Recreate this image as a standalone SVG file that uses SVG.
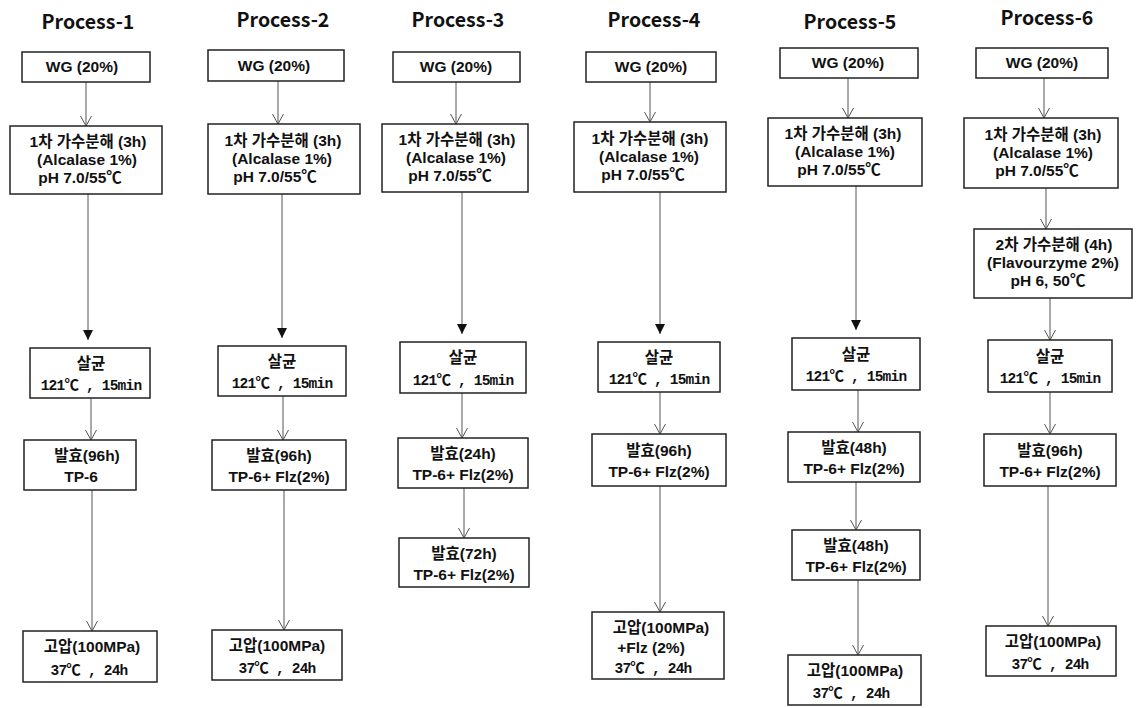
<svg xmlns="http://www.w3.org/2000/svg" width="1136" height="708" viewBox="0 0 1136 708">
  <style>
    .title { font-family: "Noto Sans CJK KR", "Noto Sans", sans-serif; font-weight: bold; font-size: 19.5px; fill: #111; text-anchor: middle; }
    .box { fill: #fff; stroke: #222; stroke-width: 1.5; }
    .t { font-family: "Liberation Sans", "Noto Sans CJK KR", sans-serif; font-weight: bold; font-size: 15.5px; fill: #111; text-anchor: middle; }
    .m { font-family: "Liberation Mono", "Noto Sans CJK KR", monospace; font-weight: bold; font-size: 14.5px; letter-spacing: -0.8px; fill: #111; text-anchor: middle; }
    .a { stroke: #555; stroke-width: 1; fill: none; marker-end: url(#open); }
    .f { stroke: #555; stroke-width: 1; fill: none; marker-end: url(#solid); }
  </style>
  <defs>
    <marker id="open" viewBox="-1 -7 12 14" markerWidth="12" markerHeight="14" refX="10" refY="0" orient="auto" markerUnits="userSpaceOnUse">
      <path d="M0,-5.5 L10,0 L0,5.5" fill="none" stroke="#555" stroke-width="1"/>
    </marker>
    <marker id="solid" viewBox="0 -6 11 12" markerWidth="11" markerHeight="12" refX="10" refY="0" orient="auto" markerUnits="userSpaceOnUse">
      <path d="M0,-5 L10,0 L0,5 Z" fill="#111"/>
    </marker>
  </defs>

  <!-- column titles -->
  <g id="titles">
    <text class="title" x="88" y="29">Process-1</text>
    <text class="title" x="283" y="27">Process-2</text>
    <text class="title" x="458" y="27">Process-3</text>
    <text class="title" x="654" y="27">Process-4</text>
    <text class="title" x="850" y="29">Process-5</text>
    <text class="title" x="1047" y="25">Process-6</text>
  </g>

  <!-- connectors -->
  <g id="connectors">
    <line class="a" x1="86" y1="82" x2="86" y2="126"/>
    <line class="f" x1="88" y1="194" x2="88" y2="340"/>
    <line class="a" x1="91" y1="398" x2="91" y2="440"/>
    <line class="a" x1="92" y1="490" x2="92" y2="631"/>

    <line class="a" x1="278" y1="81" x2="278" y2="124"/>
    <line class="f" x1="282" y1="194" x2="282" y2="338"/>
    <line class="a" x1="283" y1="396" x2="283" y2="440"/>
    <line class="a" x1="284" y1="490" x2="284" y2="630"/>

    <line class="a" x1="456" y1="82" x2="456" y2="124"/>
    <line class="f" x1="462" y1="192" x2="462" y2="334"/>
    <line class="a" x1="462" y1="393" x2="462" y2="438"/>
    <line class="a" x1="464" y1="488" x2="464" y2="538"/>

    <line class="a" x1="650" y1="82" x2="650" y2="122"/>
    <line class="f" x1="660" y1="192" x2="660" y2="334"/>
    <line class="a" x1="660" y1="392" x2="660" y2="434"/>
    <line class="a" x1="660" y1="486" x2="660" y2="612"/>

    <line class="a" x1="848" y1="78" x2="848" y2="118"/>
    <line class="f" x1="856" y1="186" x2="856" y2="330"/>
    <line class="a" x1="858" y1="390" x2="858" y2="432"/>
    <line class="a" x1="856" y1="482" x2="856" y2="530"/>
    <line class="a" x1="858" y1="580" x2="858" y2="655"/>

    <line class="a" x1="1044" y1="78" x2="1044" y2="118"/>
    <line class="a" x1="1046" y1="188" x2="1046" y2="229"/>
    <line class="a" x1="1050" y1="298" x2="1050" y2="340"/>
    <line class="a" x1="1050" y1="392" x2="1050" y2="434"/>
    <line class="a" x1="1048" y1="486" x2="1048" y2="626"/>
  </g>

  <!-- Process-1 -->
  <g id="p1-wg"><rect class="box" x="22" y="52" width="128" height="30"/><text class="t" x="82" y="72">WG (20%)</text></g>
  <g id="p1-hydro"><rect class="box" x="10" y="126" width="152" height="68"/>
    <text class="t" x="88" y="147">1차 가수분해 (3h)</text><text class="t" x="87" y="165">(Alcalase 1%)</text><text class="t" x="80" y="183">pH 7.0/55℃</text></g>
  <g id="p1-steril"><rect class="box" x="30" y="348" width="120" height="50"/>
    <text class="t" x="91" y="369">살균</text><text class="m" x="91" y="390">121℃ , 15min</text></g>
  <g id="p1-ferm"><rect class="box" x="24" y="440" width="112" height="50"/>
    <text class="t" x="87" y="461">발효(96h)</text><text class="t" x="81" y="482">TP-6</text></g>
  <g id="p1-hp"><rect class="box" x="23" y="631" width="134" height="51"/>
    <text class="t" x="92" y="652">고압(100MPa)</text><text class="m" x="89" y="675">37℃ , 24h</text></g>

  <!-- Process-2 -->
  <g id="p2-wg"><rect class="box" x="208" y="50" width="136" height="31"/><text class="t" x="274" y="71">WG (20%)</text></g>
  <g id="p2-hydro"><rect class="box" x="208" y="124" width="152" height="70"/>
    <text class="t" x="283" y="146">1차 가수분해 (3h)</text><text class="t" x="282" y="164">(Alcalase 1%)</text><text class="t" x="275" y="182">pH 7.0/55℃</text></g>
  <g id="p2-steril"><rect class="box" x="218" y="346" width="128" height="50"/>
    <text class="t" x="282" y="367">살균</text><text class="m" x="282" y="388">121℃ , 15min</text></g>
  <g id="p2-ferm"><rect class="box" x="212" y="440" width="134" height="50"/>
    <text class="t" x="279" y="461">발효(96h)</text><text class="t" x="279" y="482">TP-6+ Flz(2%)</text></g>
  <g id="p2-hp"><rect class="box" x="212" y="630" width="130" height="50"/>
    <text class="t" x="277" y="651">고압(100MPa)</text><text class="m" x="277" y="673">37℃ , 24h</text></g>

  <!-- Process-3 -->
  <g id="p3-wg"><rect class="box" x="393" y="52" width="127" height="30"/><text class="t" x="456" y="72">WG (20%)</text></g>
  <g id="p3-hydro"><rect class="box" x="382" y="124" width="146" height="68"/>
    <text class="t" x="457" y="145">1차 가수분해 (3h)</text><text class="t" x="456" y="163">(Alcalase 1%)</text><text class="t" x="450" y="181">pH 7.0/55℃</text></g>
  <g id="p3-steril"><rect class="box" x="400" y="342" width="126" height="51"/>
    <text class="t" x="463" y="363">살균</text><text class="m" x="463" y="385">121℃ , 15min</text></g>
  <g id="p3-ferm1"><rect class="box" x="398" y="438" width="130" height="50"/>
    <text class="t" x="463" y="459">발효(24h)</text><text class="t" x="463" y="480">TP-6+ Flz(2%)</text></g>
  <g id="p3-ferm2"><rect class="box" x="399" y="538" width="130" height="49"/>
    <text class="t" x="464" y="559">발효(72h)</text><text class="t" x="464" y="580">TP-6+ Flz(2%)</text></g>

  <!-- Process-4 -->
  <g id="p4-wg"><rect class="box" x="586" y="52" width="130" height="30"/><text class="t" x="651" y="72">WG (20%)</text></g>
  <g id="p4-hydro"><rect class="box" x="574" y="122" width="152" height="70"/>
    <text class="t" x="650" y="144">1차 가수분해 (3h)</text><text class="t" x="649" y="162">(Alcalase 1%)</text><text class="t" x="643" y="180">pH 7.0/55℃</text></g>
  <g id="p4-steril"><rect class="box" x="598" y="342" width="122" height="50"/>
    <text class="t" x="659" y="363">살균</text><text class="m" x="659" y="384">121℃ , 15min</text></g>
  <g id="p4-ferm"><rect class="box" x="592" y="434" width="134" height="52"/>
    <text class="t" x="659" y="456">발효(96h)</text><text class="t" x="659" y="477">TP-6+ Flz(2%)</text></g>
  <g id="p4-hp"><rect class="box" x="592" y="612" width="132" height="67"/>
    <text class="t" x="661" y="633">고압(100MPa)</text><text class="t" x="651" y="653">+Flz (2%)</text><text class="m" x="653" y="673">37℃ , 24h</text></g>

  <!-- Process-5 -->
  <g id="p5-wg"><rect class="box" x="780" y="48" width="138" height="30"/><text class="t" x="848" y="68">WG (20%)</text></g>
  <g id="p5-hydro"><rect class="box" x="768" y="118" width="154" height="68"/>
    <text class="t" x="843" y="139">1차 가수분해 (3h)</text><text class="t" x="845" y="157">(Alcalase 1%)</text><text class="t" x="839" y="175">pH 7.0/55℃</text></g>
  <g id="p5-steril"><rect class="box" x="792" y="338" width="128" height="52"/>
    <text class="t" x="856" y="360">살균</text><text class="m" x="856" y="381">121℃ , 15min</text></g>
  <g id="p5-ferm1"><rect class="box" x="788" y="432" width="132" height="50"/>
    <text class="t" x="854" y="453">발효(48h)</text><text class="t" x="854" y="474">TP-6+ Flz(2%)</text></g>
  <g id="p5-ferm2"><rect class="box" x="792" y="530" width="128" height="50"/>
    <text class="t" x="856" y="551">발효(48h)</text><text class="t" x="856" y="572">TP-6+ Flz(2%)</text></g>
  <g id="p5-hp"><rect class="box" x="788" y="655" width="133" height="50"/>
    <text class="t" x="855" y="676">고압(100MPa)</text><text class="m" x="851" y="698">37℃ , 24h</text></g>

  <!-- Process-6 -->
  <g id="p6-wg"><rect class="box" x="976" y="48" width="132" height="30"/><text class="t" x="1042" y="68">WG (20%)</text></g>
  <g id="p6-hydro"><rect class="box" x="964" y="118" width="154" height="70"/>
    <text class="t" x="1043" y="140">1차 가수분해 (3h)</text><text class="t" x="1043" y="158">(Alcalase 1%)</text><text class="t" x="1037" y="176">pH 7.0/55℃</text></g>
  <g id="p6-hydro2"><rect class="box" x="974" y="229" width="158" height="69"/>
    <text class="t" x="1054" y="250">2차 가수분해 (4h)</text><text class="t" x="1053" y="268">(Flavourzyme 2%)</text><text class="t" x="1048" y="286">pH 6, 50℃</text></g>
  <g id="p6-steril"><rect class="box" x="988" y="340" width="124" height="52"/>
    <text class="t" x="1050" y="362">살균</text><text class="m" x="1050" y="383">121℃ , 15min</text></g>
  <g id="p6-ferm"><rect class="box" x="984" y="434" width="132" height="52"/>
    <text class="t" x="1050" y="456">발효(96h)</text><text class="t" x="1050" y="477">TP-6+ Flz(2%)</text></g>
  <g id="p6-hp"><rect class="box" x="986" y="626" width="130" height="50"/>
    <text class="t" x="1053" y="647">고압(100MPa)</text><text class="m" x="1050" y="669">37℃ , 24h</text></g>
</svg>
